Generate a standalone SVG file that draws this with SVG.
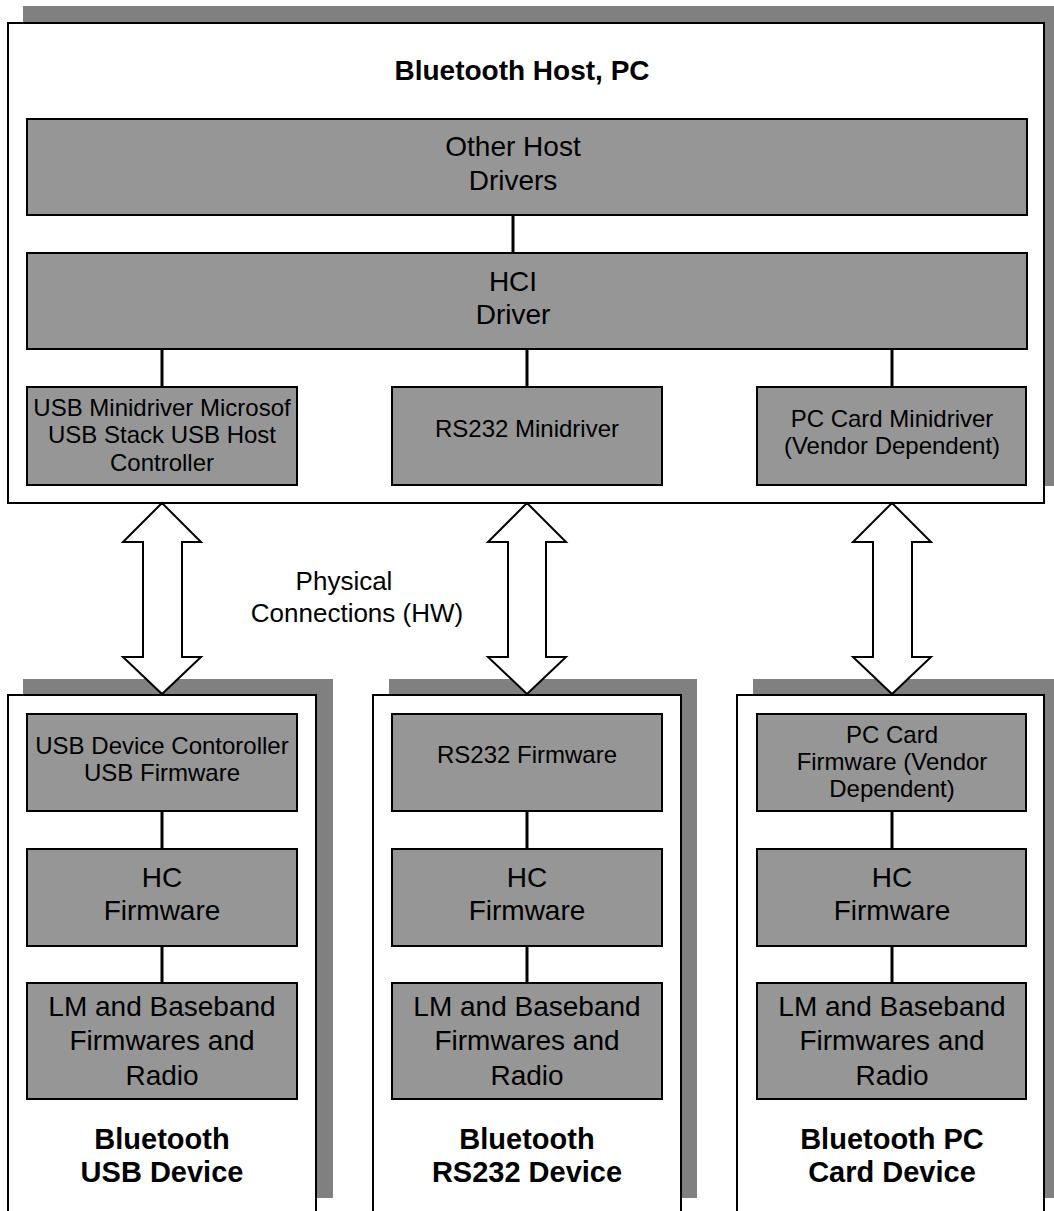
<svg xmlns="http://www.w3.org/2000/svg" width="1054" height="1211" viewBox="0 0 1054 1211">
<style>
.bg{fill:#ffffff}
.shadow{fill:#808080}
.outer{fill:#ffffff;stroke:#000;stroke-width:2}
.box{fill:#969696;stroke:#000;stroke-width:2}
.conn{stroke:#000;stroke-width:3;fill:none}
.arrow{fill:#ffffff;stroke:#000;stroke-width:2;stroke-linejoin:miter}
text{font-family:"Liberation Sans",Arial,sans-serif;fill:#000;text-anchor:middle}
.big{font-size:28px}
.small{font-size:24px}
.title{font-size:28px;font-weight:bold}
.label{font-size:26px}
</style>
<rect class="bg" x="0" y="0" width="1054" height="1211"/>

<g id="host">
<rect class="shadow" x="23" y="6" width="1036" height="480"/>
<rect class="outer" x="8" y="23" width="1036" height="480"/>
<text class="title" x="522" y="80">Bluetooth Host, PC</text>
</g>

<g id="other-host-drivers">
<rect class="box" x="27" y="119" width="1000" height="96"/>
<text class="big" x="513" y="156">Other Host</text>
<text class="big" x="513" y="190">Drivers</text>
</g>

<g id="hci-driver">
<rect class="box" x="27" y="253" width="1000" height="96"/>
<text class="big" x="513" y="291">HCI</text>
<text class="big" x="513" y="324">Driver</text>
</g>

<g id="usb-minidriver">
<rect class="box" x="27" y="387" width="270" height="98"/>
<text class="small" x="162" y="416">USB Minidriver Microsof</text>
<text class="small" x="162" y="443">USB Stack USB Host</text>
<text class="small" x="162" y="471">Controller</text>
</g>

<g id="rs232-minidriver">
<rect class="box" x="392" y="387" width="270" height="98"/>
<text class="small" x="527" y="437">RS232 Minidriver</text>
</g>

<g id="pccard-minidriver">
<rect class="box" x="757" y="387" width="269" height="98"/>
<text class="small" x="892" y="427">PC Card Minidriver</text>
<text class="small" x="892" y="454">(Vendor Dependent)</text>
</g>

<g id="usb-device">
<rect class="shadow" x="23" y="679" width="310" height="519"/>
<rect class="outer" x="8" y="695" width="308" height="530"/>
<text class="title" x="162" y="1149" style="font-size:29px">Bluetooth</text>
<text class="title" x="162" y="1182" style="font-size:29px">USB Device</text>
</g>
<g id="usb-controller-fw">
<rect class="box" x="27" y="714" width="270" height="97"/>
<text class="small" x="162" y="754">USB Device Contoroller</text>
<text class="small" x="162" y="781">USB Firmware</text>
</g>
<g id="usb-hc-fw">
<rect class="box" x="27" y="849" width="270" height="97"/>
<text class="big" x="162" y="887">HC</text>
<text class="big" x="162" y="920">Firmware</text>
</g>
<g id="usb-lm">
<rect class="box" x="27" y="983" width="270" height="116"/>
<text class="big" x="162" y="1016">LM and Baseband</text>
<text class="big" x="162" y="1050">Firmwares and</text>
<text class="big" x="162" y="1085">Radio</text>
</g>

<g id="rs232-device">
<rect class="shadow" x="389" y="679" width="308" height="519"/>
<rect class="outer" x="373" y="695" width="308" height="530"/>
<text class="title" x="527" y="1149" style="font-size:29px">Bluetooth</text>
<text class="title" x="527" y="1182" style="font-size:29px">RS232 Device</text>
</g>
<g id="rs232-fw">
<rect class="box" x="392" y="714" width="270" height="97"/>
<text class="small" x="527" y="763">RS232 Firmware</text>
</g>
<g id="rs232-hc-fw">
<rect class="box" x="392" y="849" width="270" height="97"/>
<text class="big" x="527" y="887">HC</text>
<text class="big" x="527" y="920">Firmware</text>
</g>
<g id="rs232-lm">
<rect class="box" x="392" y="983" width="270" height="116"/>
<text class="big" x="527" y="1016">LM and Baseband</text>
<text class="big" x="527" y="1050">Firmwares and</text>
<text class="big" x="527" y="1085">Radio</text>
</g>

<g id="pccard-device">
<rect class="shadow" x="753" y="679" width="310" height="519"/>
<rect class="outer" x="737" y="695" width="307" height="530"/>
<text class="title" x="892" y="1149" style="font-size:29px">Bluetooth PC</text>
<text class="title" x="892" y="1182" style="font-size:29px">Card Device</text>
</g>
<g id="pccard-fw">
<rect class="box" x="757" y="714" width="269" height="97"/>
<text class="small" x="892" y="743">PC Card</text>
<text class="small" x="892" y="770">Firmware (Vendor</text>
<text class="small" x="892" y="797">Dependent)</text>
</g>
<g id="pccard-hc-fw">
<rect class="box" x="757" y="849" width="269" height="97"/>
<text class="big" x="892" y="887">HC</text>
<text class="big" x="892" y="920">Firmware</text>
</g>
<g id="pccard-lm">
<rect class="box" x="757" y="983" width="269" height="116"/>
<text class="big" x="892" y="1016">LM and Baseband</text>
<text class="big" x="892" y="1050">Firmwares and</text>
<text class="big" x="892" y="1085">Radio</text>
</g>

<g id="connectors">
<line class="conn" x1="513" y1="215" x2="513" y2="253"/>
<line class="conn" x1="162" y1="349" x2="162" y2="387"/>
<line class="conn" x1="527" y1="349" x2="527" y2="387"/>
<line class="conn" x1="892" y1="349" x2="892" y2="387"/>
<line class="conn" x1="162" y1="811" x2="162" y2="849"/>
<line class="conn" x1="162" y1="946" x2="162" y2="983"/>
<line class="conn" x1="527" y1="811" x2="527" y2="849"/>
<line class="conn" x1="527" y1="946" x2="527" y2="983"/>
<line class="conn" x1="892" y1="811" x2="892" y2="849"/>
<line class="conn" x1="892" y1="946" x2="892" y2="983"/>
<polygon class="arrow" points="162,503 201,542 182,542 182,657 201,657 162,694 123,657 143,657 143,542 123,542"/>
<polygon class="arrow" points="527,503 566,542 546,542 546,657 566,657 527,694 488,657 508,657 508,542 488,542"/>
<polygon class="arrow" points="892,503 931,542 912,542 912,657 931,657 892,694 853,657 873,657 873,542 853,542"/>
</g>

<g id="physical-label">
<text class="label" x="344" y="590">Physical</text>
<text class="label" x="357" y="622">Connections (HW)</text>
</g>
</svg>
